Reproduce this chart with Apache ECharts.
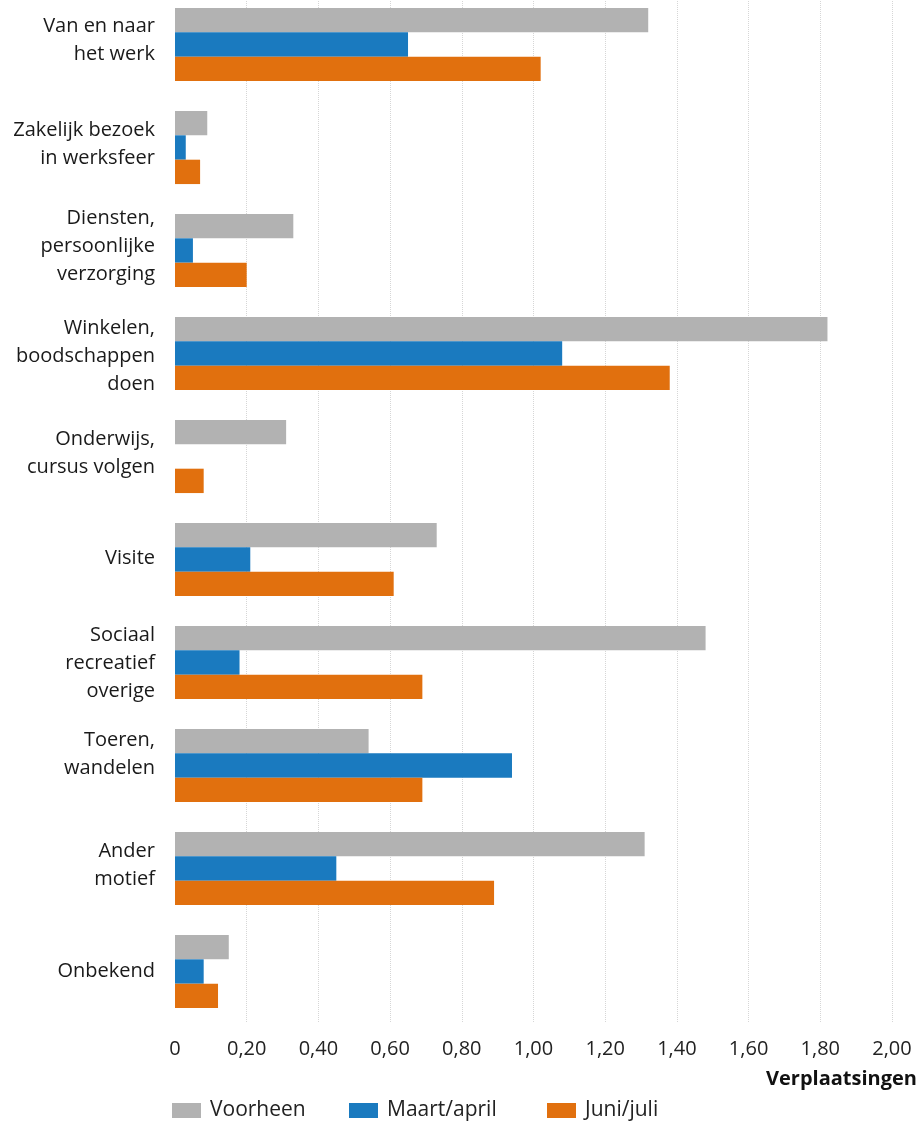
<!DOCTYPE html>
<html>
<head>
<meta charset="utf-8">
<script src="https://cdn.jsdelivr.net/npm/echarts@6/dist/echarts.min.js"></script>
<style>
html,body{margin:0;padding:0;background:#fff;overflow:hidden;}
#c{position:absolute;left:0;top:-7px;width:919px;height:1130px;}
</style>
</head>
<body>
<div id="c"></div>
<script>
var categories = [
  'Van en naar\nhet werk',
  'Zakelijk bezoek\nin werksfeer',
  'Diensten,\npersoonlijke\nverzorging',
  'Winkelen,\nboodschappen\ndoen',
  'Onderwijs,\ncursus volgen',
  'Visite',
  'Sociaal\nrecreatief\noverige',
  'Toeren,\nwandelen',
  'Ander\nmotief',
  'Onbekend'
];
var seriesNames = ['Voorheen', 'Maart/april', 'Juni/juli'];
var voorheen   = [1.32, 0.09, 0.33, 1.82, 0.31, 0.73, 1.48, 0.54, 1.31, 0.15];
var maartApril = [0.65, 0.03, 0.05, 1.08, 0.00, 0.21, 0.18, 0.94, 0.45, 0.08];
var juniJuli   = [1.02, 0.07, 0.20, 1.38, 0.08, 0.61, 0.69, 0.69, 0.89, 0.12];

// styling (label vertical nudges in px, upward positive; legend positions)
var labelLift = [4, 3, 4, -3, 3, 1, -1, 11, 3, 0];
var legendLeft = [172, 349, 547];
var colors = ['#b2b2b2', '#1a7abf', '#e1700e'];
var font = 'Open Sans';

var chart = echarts.init(document.getElementById('c'), null, {renderer: 'canvas'});
var gridColors = ['rgba(0,0,0,0)'];
for (var i = 0; i < 10; i++) gridColors.push('#d6d6d6');

var rich = {
  t: {fontFamily: font, fontSize: 20, lineHeight: 28, color: '#1a1a1a', align: 'right'}
};
labelLift.forEach(function (s, i) {
  if (s !== 0) rich['sp' + i] = {fontSize: 1, lineHeight: Math.abs(s) * 2, align: 'right'};
});

var legends = seriesNames.map(function (n, i) {
  return {
    left: legendLeft[i],
    top: 1107,
    padding: 0,
    itemWidth: 29,
    itemHeight: 15,
    icon: 'rect',
    textStyle: {fontFamily: font, fontSize: 21, color: '#222', padding: [0, 0, 0, 4]},
    data: [n]
  };
});

chart.setOption({
  animation: false,
  color: colors,
  textStyle: {fontFamily: font},
  title: {
    text: 'Verplaatsingen',
    right: 2,
    top: 1076,
    padding: 0,
    textStyle: {fontFamily: font, fontSize: 20, fontWeight: 'bold', color: '#111'}
  },
  legend: legends,
  grid: {left: 175, right: 27, top: 0, height: 1030},
  xAxis: {
    type: 'value',
    min: 0,
    max: 2,
    interval: 0.2,
    axisLine: {show: false},
    axisTick: {show: false},
    axisLabel: {
      fontFamily: font,
      fontSize: 20,
      color: '#222',
      margin: 16,
      formatter: function (v) { return v === 0 ? '0' : v.toFixed(2).replace('.', ','); }
    },
    splitLine: {show: true, lineStyle: {type: 'dotted', color: gridColors, width: 1}}
  },
  yAxis: {
    type: 'category',
    inverse: true,
    data: categories,
    axisLine: {show: false},
    axisTick: {show: false},
    axisLabel: {
      fontFamily: font,
      fontSize: 20,
      lineHeight: 28,
      color: '#1a1a1a',
      margin: 20,
      align: 'right',
      rich: rich,
      formatter: function (value, index) {
        var lines = value.split('\n').map(function (l) { return '{t|' + l + '}'; });
        var s = labelLift[index];
        if (s > 0) lines.push('{sp' + index + '|\u00a0}');
        if (s < 0) lines.unshift('{sp' + index + '|\u00a0}');
        return lines.join('\n');
      }
    }
  },
  series: [
    {name: seriesNames[0], type: 'bar', data: voorheen, barGap: '0%', barCategoryGap: '29%'},
    {name: seriesNames[1], type: 'bar', data: maartApril, barGap: '0%', barCategoryGap: '29%'},
    {name: seriesNames[2], type: 'bar', data: juniJuli, barGap: '0%', barCategoryGap: '29%'}
  ]
});
</script>
</body>
</html>
